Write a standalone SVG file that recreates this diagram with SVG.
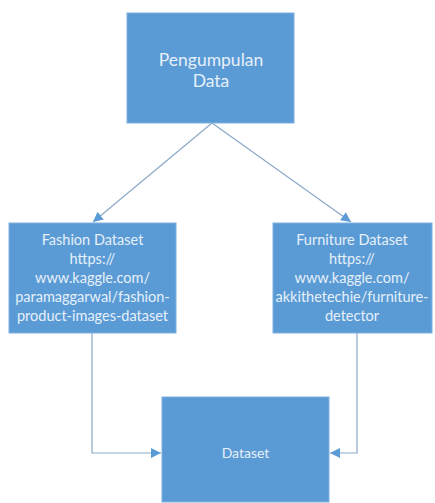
<svg xmlns="http://www.w3.org/2000/svg" width="435" height="503" viewBox="0 0 435 503">
<style>
.box{fill:#5b9bd5;stroke:#7fb0de;stroke-width:1}
.t{font-family:Lato,"Open Sans",sans-serif;fill:#e6f0fa;text-anchor:middle}
.c{fill:none;stroke:#8aa9c8;stroke-width:1.2}
</style>
<defs>
<marker id="ah" viewBox="0 0 10 10" refX="10" refY="5" markerWidth="10" markerHeight="10" markerUnits="userSpaceOnUse" orient="auto">
<path d="M0,0 L10,5 L0,10 z" fill="#5b9bd5"/>
</marker>
</defs>
<rect width="435" height="503" fill="#ffffff"/>
<g id="connectors">
<line class="c" x1="212" y1="123" x2="93" y2="222" marker-end="url(#ah)"/>
<line class="c" x1="212" y1="123" x2="351" y2="222" marker-end="url(#ah)"/>
<polyline class="c" points="92,333 92,453 161,453" marker-end="url(#ah)"/>
<polyline class="c" points="357,333 357,453 330,453" marker-end="url(#ah)"/>
</g>
<g id="pengumpulan">
<rect class="box" x="127" y="13" width="167" height="110"/>
<text class="t" x="211" y="66" font-size="17.5">Pengumpulan</text>
<text class="t" x="211" y="87" font-size="17.5">Data</text>
</g>
<g id="fashion">
<rect class="box" x="9" y="223" width="167" height="110"/>
<text class="t" font-size="14.5"><tspan x="92.5" y="245">Fashion Dataset</tspan><tspan x="92.5" y="264">https://</tspan><tspan x="92.5" y="283">www.kaggle.com/</tspan><tspan x="92.5" y="302">paramaggarwal/fashion-</tspan><tspan x="92.5" y="321">product-images-dataset</tspan></text>
</g>
<g id="furniture">
<rect class="box" x="273" y="223" width="159" height="110"/>
<text class="t" font-size="14.5"><tspan x="352" y="245">Furniture Dataset</tspan><tspan x="352" y="264">https://</tspan><tspan x="352" y="283">www.kaggle.com/</tspan><tspan x="352" y="302">akkithetechie/furniture-</tspan><tspan x="352" y="321">detector</tspan></text>
</g>
<g id="dataset">
<rect class="box" x="162" y="397" width="167" height="105"/>
<text class="t" x="245.5" y="458" font-size="14">Dataset</text>
</g>
</svg>
